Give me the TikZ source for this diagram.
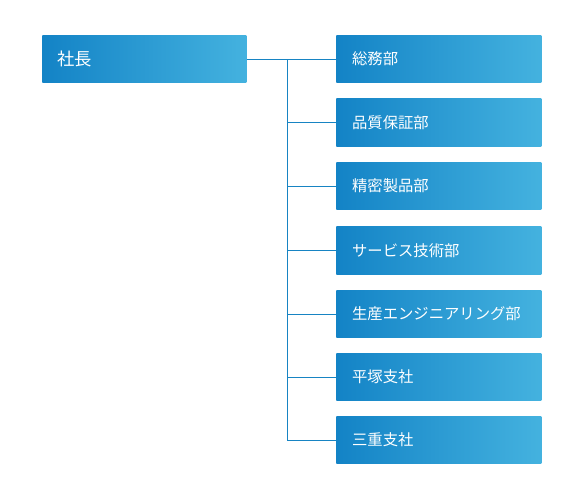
\documentclass[tikz,border=0pt]{standalone}
\usepackage{fontspec}
\newfontfamily\jp{Noto Sans CJK JP}
\definecolor{gl}{HTML}{1383C6}
\definecolor{gr}{HTML}{44B2DF}
\definecolor{ln}{HTML}{1784C3}
\tikzset{
  orgbox/.style={anchor=north west, left color=gl, right color=gr, text=white,
    minimum width=153.75pt, minimum height=35.75pt, inner xsep=11.5pt, inner ysep=0pt,
    text width=130pt, align=left, font=\jp\fontsize{11.5}{13}\selectfont},
  rootbox/.style={orgbox, font=\jp\fontsize{13}{15}\selectfont, minimum width=153pt},
  conn/.style={draw=ln, line width=0.8pt}
}
\begin{document}
\begin{tikzpicture}[x=0.75pt,y=-0.75pt]
\useasboundingbox (0,0) rectangle (580,500);
\node[rootbox] (r) at (42,35) {社長};
\node[orgbox] (c1) at (336,35) {総務部};
\node[orgbox] (c2) at (336,98.5) {品質保証部};
\node[orgbox] (c3) at (336,162) {精密製品部};
\node[orgbox] (c4) at (336,226.5) {サービス技術部};
\node[orgbox] (c5) at (336,290) {生産エンジニアリング部};
\node[orgbox] (c6) at (336,353) {平塚支社};
\node[orgbox] (c7) at (336,416) {三重支社};
\coordinate (j) at (287.3,0);
\draw[conn] (r.east) -- (c1.west);
\draw[conn] (r.east -| j) -- (c7.west -| j) -- (c7.west);
\foreach \c in {c2,c3,c4,c5,c6}{
  \draw[conn] (\c.west -| j) -- (\c.west);
}
\end{tikzpicture}
\end{document}
